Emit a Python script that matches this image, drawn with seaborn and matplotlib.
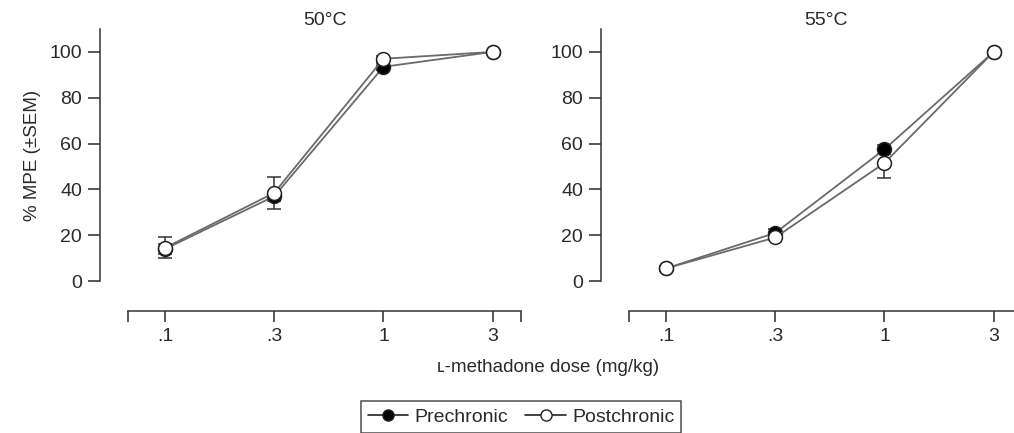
"""
Dose-response of l-methadone, pre- vs postchronic, at 50 and 55 C.
"""

import matplotlib
matplotlib.use("Agg")
import matplotlib.pyplot as plt
from matplotlib.lines import Line2D
import pandas as pd
import seaborn as sns

# ──────────────────────────────────────────────
# Data
# ──────────────────────────────────────────────
doses      = [".1", ".3", "1", "3"]
temps      = ["50°C", "55°C"]

pre_50     = [14.0, 37.0, 93.5, 100.0]
post_50    = [14.5, 38.5, 97.0, 100.0]
pre_50_sem = [2.0, 2.0, 1.5, 0.0]
post_50_sem = [4.5, 7.0, 1.0, 0.0]

pre_55     = [5.5, 21.0, 57.5, 100.0]
post_55    = [5.5, 19.0, 51.5, 100.0]
pre_55_sem = [1.0, 1.5, 2.0, 0.0]
post_55_sem = [1.0, 1.0, 6.5, 0.0]

series = {
    "50°C": {"Prechronic": (pre_50, pre_50_sem), "Postchronic": (post_50, post_50_sem)},
    "55°C": {"Prechronic": (pre_55, pre_55_sem), "Postchronic": (post_55, post_55_sem)},
}
face = {"Prechronic": "black", "Postchronic": "white"}

rows = []
for temp in temps:
    for group, (vals, sems) in series[temp].items():
        for i, (d, v, s) in enumerate(zip(doses, vals, sems)):
            rows.append({"temp": temp, "group": group, "pos": i, "dose": d, "mpe": v, "sem": s})
df = pd.DataFrame(rows)

# ──────────────────────────────────────────────
# Plot
# ──────────────────────────────────────────────
sns.set_theme(style="ticks")
plt.rcParams["font.family"] = ["Liberation Sans", "DejaVu Sans"]
plt.rcParams["text.color"] = "#2a2a2a"
plt.rcParams["axes.labelcolor"] = "#2a2a2a"
plt.rcParams["xtick.color"] = "#2a2a2a"
plt.rcParams["ytick.color"] = "#2a2a2a"

W, H = 1014, 433
fig = plt.figure(figsize=(W / 100, H / 100), dpi=100)

def px_axes(left, right, top, bottom):
    return fig.add_axes([left / W, 1 - bottom / H, (right - left) / W, (bottom - top) / H])

axes = [px_axes(128, 521, 29, 281), px_axes(629, 1022, 29, 281)]

for ax, temp in zip(axes, temps):
    sub = df[df["temp"] == temp]
    for group in ["Prechronic", "Postchronic"]:
        g = sub[sub["group"] == group]
        ax.errorbar(g["pos"], g["mpe"], yerr=g["sem"], fmt="none",
                    ecolor="#333333", elinewidth=1.1, capsize=5, capthick=1.1, zorder=2)
        sns.lineplot(data=g, x="pos", y="mpe", ax=ax, color="#6a6a6a", linewidth=1.3,
                     marker="o", markersize=10, markerfacecolor=face[group],
                     markeredgecolor="#222222", markeredgewidth=1.1, legend=False, zorder=3)

    ax.set_xlim(-0.34, 3.26)
    ax.set_ylim(0, 110)
    ax.set_xticks(range(len(doses)))
    ax.set_xticklabels(doses)
    ax.set_xticks([-0.34, 3.26], minor=True)
    ax.set_yticks([0, 20, 40, 60, 80, 100])
    ax.tick_params(axis="both", which="major", width=1.1, labelsize=14)
    ax.tick_params(axis="y", which="major", length=9, pad=4)
    ax.tick_params(axis="x", which="major", length=8, pad=4)
    ax.tick_params(axis="x", which="minor", length=8, width=1.1)
    ax.spines["left"].set_position(("outward", 20))
    ax.spines["bottom"].set_position(("outward", 21.5))
    for sp in ("left", "bottom"):
        ax.spines[sp].set_linewidth(1.1)
        ax.spines[sp].set_color("#333333")
    sns.despine(ax=ax)
    ax.set_xlabel("")
    ax.set_ylabel("")
    ax.set_title(temp, fontsize=14, pad=3)

axes[0].set_ylabel("% MPE (±SEM)", fontsize=13.5, labelpad=6)

fig.text(548 / W, 1 - 368 / H, "ʟ-methadone dose (mg/kg)", ha="center", va="center",
         fontsize=13.5, family=["Liberation Sans", "DejaVu Sans"])

handles = [
    Line2D([], [], color="#222222", marker="o", markersize=8, markerfacecolor=face[g],
           markeredgecolor="#222222", linewidth=1.2, label=g)
    for g in ["Prechronic", "Postchronic"]
]
leg = fig.legend(handles=handles, loc="lower center", bbox_to_anchor=(521 / W, 0.5 / H),
                 ncol=2, frameon=True, fancybox=False, fontsize=14, handlelength=2.1,
                 handletextpad=0.3, columnspacing=0.9, borderpad=0.35, borderaxespad=0)
leg.get_frame().set_edgecolor("#222222")
leg.get_frame().set_linewidth(1.1)

fig.savefig("out.png", dpi=100)
